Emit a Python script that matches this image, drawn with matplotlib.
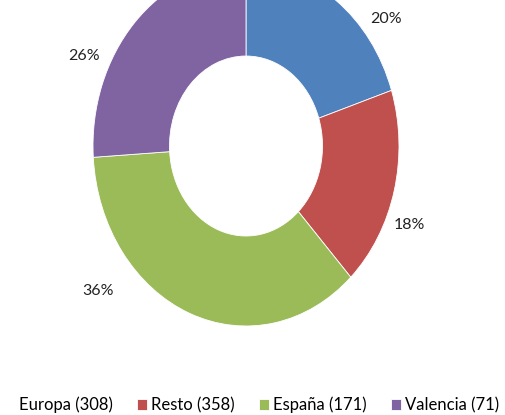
import matplotlib.pyplot as plt

plt.rcParams['font.family'] = ['Lato', 'DejaVu Sans']

labels = ["Europa (308)", "Resto (358)", "España (171)", "Valencia (71)"]
shares = [20, 18, 36, 26]
colors = ['#4F81BD', '#C0504D', '#9BBB59', '#8064A2']

# where Excel put the percentage labels (data coords, ellipse radius 1)
label_pos = [(0.915, 0.705), (1.07, -0.44), (-0.967, -0.805), (-1.06, 0.50)]

fig = plt.figure(figsize=(5.06, 4.15), dpi=100)
# axes spans the donut's horizontal extent; top is clipped like the original
ax = fig.add_axes([93 / 506, 89 / 415, 306 / 506, 313 / 415])

wedges, _ = ax.pie(shares, colors=colors, startangle=90, counterclock=False,
                   radius=1, wedgeprops=dict(width=0.5, edgecolor='white', linewidth=0.6))
ax.set_aspect('auto')
ax.set_xlim(-1, 1)
ax.set_ylim(-1, 0.739)
ax.axis('off')

for (x, y), s in zip(label_pos, shares):
    ax.text(x, y, f"{s}%", ha='center', va='center', fontsize=11.5, color='#222222')

leg = fig.legend(wedges, labels, loc='center', bbox_to_anchor=(252 / 506, 1 - 405 / 415),
                 ncol=4, frameon=False, fontsize=12, handlelength=0.6, handleheight=0.6,
                 handletextpad=0.2, columnspacing=1.5, borderaxespad=0)
# the first legend square is not shown in the original
leg.legend_handles[0].set_visible(False)

plt.savefig('out.png', dpi=100)
